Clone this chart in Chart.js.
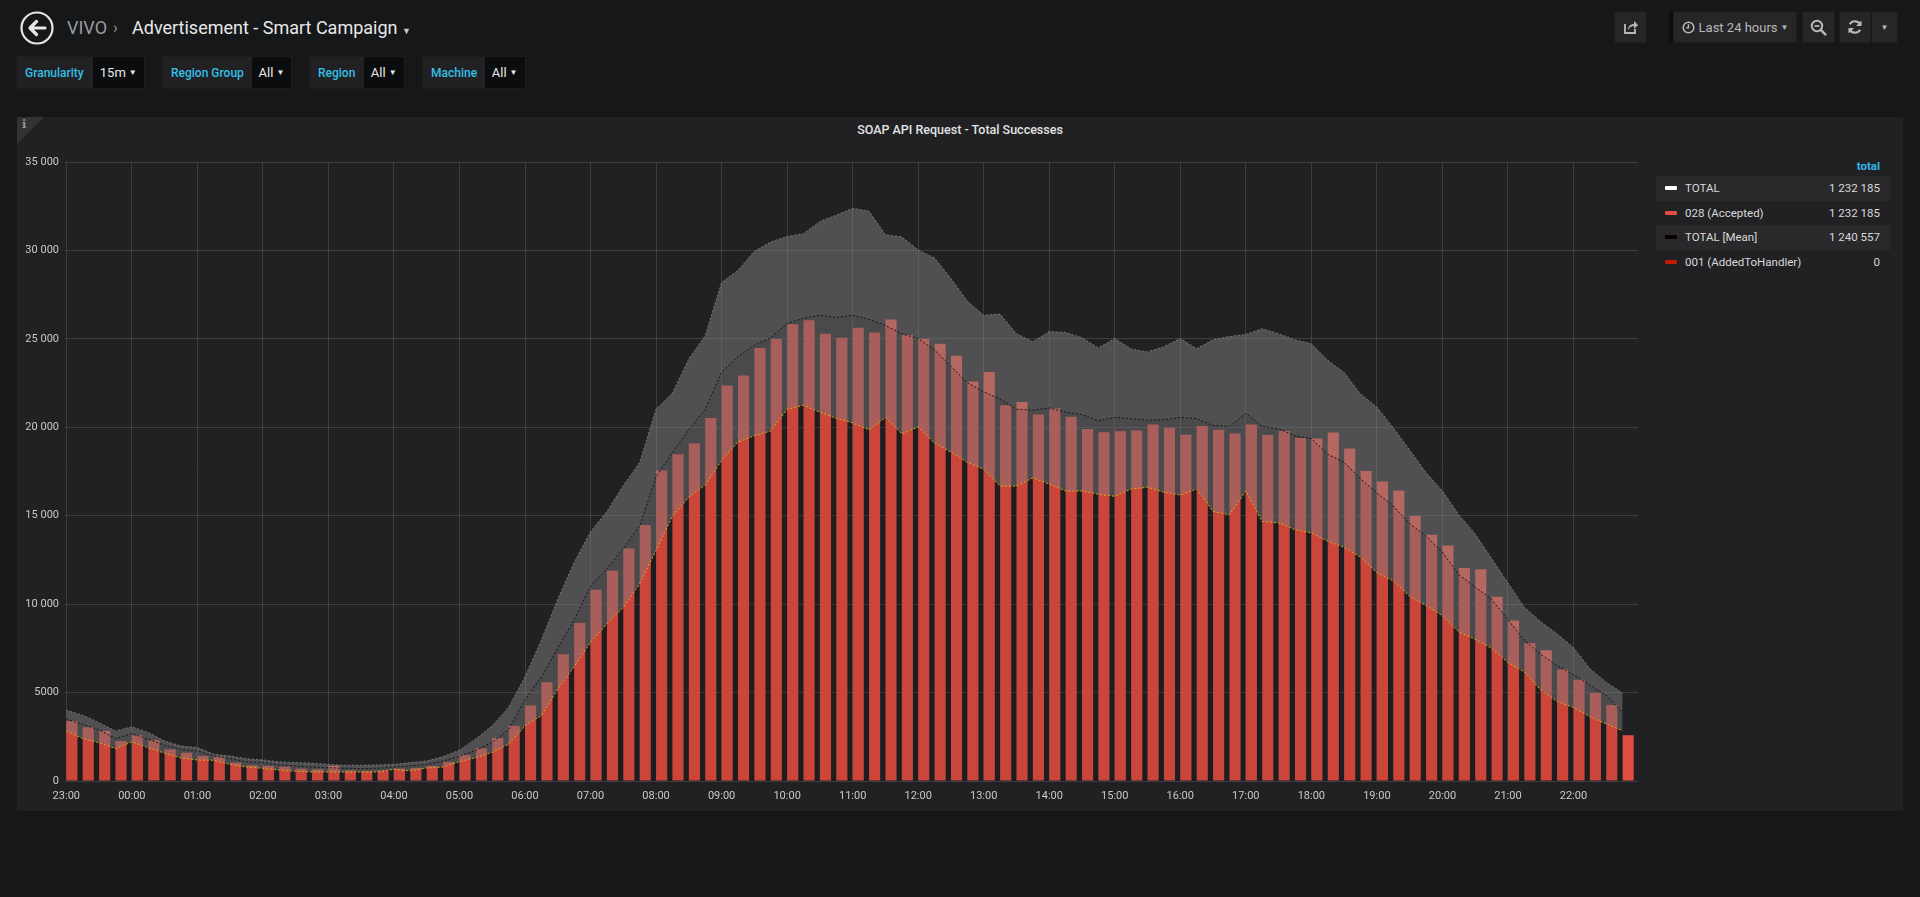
<!DOCTYPE html>
<html>
<head>
<meta charset="utf-8">
<title>SOAP API Request - Total Successes</title>
<script src="https://cdn.jsdelivr.net/npm/chart.js@4.4.1/dist/chart.umd.min.js"></script>
<style>
  body { margin: 0; width: 1920px; height: 897px; overflow: hidden; position: relative;
         background: #161719; font-family: Roboto, "Helvetica Neue", Arial, sans-serif; color: #d8d9da; }
  .abs { position: absolute; }
  .crumb { top: 15px; font-size: 18px; line-height: 26px; white-space: nowrap; }
  .btn { background: #262628; border: 1px solid #1c1c1e; border-radius: 2px; box-sizing: border-box;
         display: flex; align-items: center; justify-content: center; color: #b7b8ba; font-size: 13px; }
  .var { top: 56px; height: 33px; display: flex; border: 1px solid #1c1c1e; box-sizing: border-box; }
  .var .lbl { background: #212124; color: #33bfe5; font-size: 12px; font-weight: 500;
              display: flex; align-items: center; padding-left: 8px; box-sizing: border-box; }
  .var .val { background: #0b0c0e; color: #e8e8e8; font-size: 13px; display: flex; align-items: center;
              padding-left: 7px; box-sizing: border-box; }
  .caret { font-size: 8px; margin-left: 3px; }
  #panel { left: 17px; top: 117px; width: 1886px; height: 694px; background: #212124; }
  #info { left: 0; top: 0; width: 0; height: 0; border-top: 27px solid #333336; border-right: 27px solid transparent; }
  #infoI { left: 5px; top: 1px; font-size: 11px; color: #9a9a9c; font-family: "DejaVu Serif", serif; font-weight: bold; }
  #ptitle { left: 0; width: 1886px; top: 5px; text-align: center; font-size: 12.5px; font-weight: 500; color: #e3e3e3; }
  #legend { left: 1639px; top: 39px; width: 234px; font-size: 11.5px; }
  #legend .head { text-align: right; color: #33b5e5; font-weight: bold; height: 20px; line-height: 20px; padding-right: 10px; }
  #legend .row { height: 24.5px; display: flex; align-items: center; padding: 0 10px 0 9px; }
  #legend .row.odd { background: #29292b; }
  #legend .sw { width: 12px; height: 4px; border-radius: 1px; margin-right: 8px; }
  #legend .nm { flex: 1; color: #d8d9da; }
  #legend .tv { color: #d8d9da; }
  #chartBox { left: 17px; top: 140px; width: 1630px; height: 671px; }
</style>
</head>
<body>

<!-- top bar -->
<svg class="abs" style="left:19px;top:10px" width="36" height="36" viewBox="0 0 36 36">
  <circle cx="18" cy="18" r="15.5" fill="none" stroke="#e6e6e6" stroke-width="2.2"/>
  <path d="M26 18 H12 M17.5 11.5 L11 18 L17.5 24.5" fill="none" stroke="#e6e6e6" stroke-width="3.2" stroke-linecap="round" stroke-linejoin="round"/>
</svg>
<div class="abs crumb" style="left:67px;color:#9a9b9d">VIVO</div>
<div class="abs crumb" style="left:113px;color:#9a9b9d;font-size:16px">&#x203A;</div>
<div class="abs crumb" style="left:132px;color:#e8e8e8">Advertisement - Smart Campaign <span style="font-size:9px;color:#c8c8c8">&#9660;</span></div>

<div class="abs btn" style="left:1614px;top:11px;width:33px;height:32px">
  <svg width="16" height="16" viewBox="0 0 16 16"><path d="M2 5 V14 H12 V10" fill="none" stroke="#b7b8ba" stroke-width="1.8"/><path d="M5 11 C5 7 8 5 11 5 V2 L15 6 L11 10 V7 C8.5 7 6.5 8.5 5 11 Z" fill="#b7b8ba"/></svg>
</div>
<div class="abs" style="left:1669px;top:11px;width:4px;height:32px;background:#0d0e10"></div>
<div class="abs btn" style="left:1673px;top:11px;width:124px;height:32px">
  <svg width="13" height="13" viewBox="0 0 13 13" style="margin-right:4px"><circle cx="6.5" cy="6.5" r="5.3" fill="none" stroke="#b7b8ba" stroke-width="1.5"/><path d="M6.5 3.3 V6.8 H4.3" fill="none" stroke="#b7b8ba" stroke-width="1.4"/></svg>
  Last 24 hours <span class="caret">&#9660;</span>
</div>
<div class="abs btn" style="left:1802px;top:11px;width:33px;height:32px">
  <svg width="17" height="17" viewBox="0 0 17 17"><circle cx="7" cy="7" r="5.2" fill="none" stroke="#b7b8ba" stroke-width="2"/><path d="M4.5 7 H9.5" stroke="#b7b8ba" stroke-width="1.8"/><path d="M10.8 10.8 L15.3 15.3" stroke="#b7b8ba" stroke-width="2.6" stroke-linecap="round"/></svg>
</div>
<div class="abs btn" style="left:1839px;top:11px;width:32px;height:32px">
  <svg width="16" height="16" viewBox="0 0 16 16"><path d="M13.5 6 A6 6 0 0 0 2.8 5.2" fill="none" stroke="#b7b8ba" stroke-width="2.2"/><path d="M14.5 1.5 V7 H9 Z" fill="#b7b8ba"/><path d="M2.5 10 A6 6 0 0 0 13.2 10.8" fill="none" stroke="#b7b8ba" stroke-width="2.2"/><path d="M1.5 14.5 V9 H7 Z" fill="#b7b8ba"/></svg>
</div>
<div class="abs btn" style="left:1871px;top:11px;width:27px;height:32px"><span class="caret" style="margin:0">&#9660;</span></div>

<!-- template variables -->
<div class="abs var" style="left:16px;width:129px"><div class="lbl" style="width:77px">Granularity</div><div class="val" style="width:52px">15m<span class="caret">&#9660;</span></div></div>
<div class="abs var" style="left:162px;width:130px"><div class="lbl" style="width:90px">Region Group</div><div class="val" style="width:40px">All<span class="caret">&#9660;</span></div></div>
<div class="abs var" style="left:309px;width:96px"><div class="lbl" style="width:55px">Region</div><div class="val" style="width:41px">All<span class="caret">&#9660;</span></div></div>
<div class="abs var" style="left:422px;width:104px"><div class="lbl" style="width:63px">Machine</div><div class="val" style="width:41px">All<span class="caret">&#9660;</span></div></div>

<!-- panel -->
<div id="panel" class="abs">
  <div id="info" class="abs"></div>
  <div id="infoI" class="abs">i</div>
  <div id="ptitle" class="abs">SOAP API Request - Total Successes</div>
  <div id="legend" class="abs"></div>
</div>
<div id="chartBox" class="abs"><canvas id="chart" width="1630" height="671"></canvas></div>

<script>
// hours on the x axis, starting at 23:00 of the previous day
const hourLabels = ['23:00','00:00','01:00','02:00','03:00','04:00','05:00','06:00','07:00','08:00','09:00','10:00',
                    '11:00','12:00','13:00','14:00','15:00','16:00','17:00','18:00','19:00','20:00','21:00','22:00'];
const yTicks = [0, 5000, 10000, 15000, 20000, 25000, 30000, 35000];

// 15 minute buckets, 23:00 -> 22:45
const accepted = [
  3400, 3040, 2830, 2260, 2580, 2300, 1790, 1600, 1420, 1380, 1040, 890,
  850, 810, 700, 660, 870, 600, 570, 600, 700, 740, 850, 1080,
  1480, 1850, 2420, 3120, 4270, 5590, 7160, 8940, 10810, 11890, 13140, 14480,
  17550, 18480, 19100, 20530, 22360, 22930, 24480, 24990, 25820, 26050, 25290, 25060,
  25630, 25360, 26100, 25220, 24990, 24720, 24050, 22590, 23120, 21250, 21430, 20720,
  21060, 20600, 19910, 19720, 19770, 19820, 20160, 19980, 19580, 20070, 19860, 19650,
  20160, 19560, 19790, 19400, 19360, 19700, 18800, 17530, 16930, 16420, 14990, 13930,
  13310, 12040, 11970, 10420, 9080, 7790, 7390, 6310, 5730, 4970, 4300, 2590
];
const meanLine = [
  3490, 3210, 2890, 2400, 2680, 2360, 2020, 1790, 1700, 1420, 1260, 1090,
  1040, 910, 850, 790, 750, 720, 700, 720, 790, 850, 940, 1130,
  1400, 1730, 2190, 2890, 4620, 5890, 7510, 9120, 11020, 12010, 13160, 14430,
  17210, 18590, 19860, 21020, 23100, 24020, 24640, 25060, 25870, 26170, 26330, 26210,
  26330, 26100, 25760, 25290, 25020, 24370, 23450, 22520, 22010, 21600, 21020, 20970,
  21090, 20860, 20720, 20370, 20560, 20490, 20400, 20420, 20560, 20490, 20100, 20050,
  20790, 20050, 19910, 19520, 19360, 18480, 18020, 17090, 16290, 15550, 14550, 13860,
  12940, 11670, 10970, 10280, 9120, 7970, 7160, 6540, 6010, 5430, 4850, 3860
];
const upperBand = [
  4000, 3720, 3300, 2830, 3060, 2740, 2260, 1980, 1890, 1510, 1420, 1260,
  1190, 1080, 1040, 1000, 940, 890, 890, 910, 940, 1040, 1130, 1380,
  1740, 2380, 3120, 4160, 5890, 7970, 10280, 12360, 14090, 15240, 16700, 18010,
  21020, 21940, 23860, 25170, 28180, 28870, 29950, 30480, 30790, 30950, 31640, 31990,
  32380, 32220, 30880, 30770, 30030, 29570, 28410, 27140, 26330, 26400, 25290, 24830,
  25410, 25360, 25060, 24490, 25020, 24420, 24260, 24560, 25020, 24440, 24950, 25130,
  25250, 25570, 25290, 24950, 24720, 23790, 23100, 21880, 21140, 19980, 18710, 17440,
  16400, 15060, 13970, 12590, 11200, 9820, 9010, 8320, 7550, 6350, 5590, 4970
];
const lowerBand = [
  2830, 2400, 2170, 1830, 2210, 1890, 1570, 1300, 1190, 1170, 940, 790,
  720, 620, 550, 510, 510, 510, 510, 510, 660, 570, 740, 790,
  1100, 1320, 1620, 2080, 3120, 3700, 5200, 6470, 7850, 8890, 9820, 11150,
  13050, 14970, 16050, 16740, 18130, 19170, 19520, 19790, 21020, 21250, 20850, 20510,
  20250, 19860, 20550, 19630, 20020, 19100, 18600, 18020, 17630, 16680, 16680, 17140,
  16790, 16400, 16400, 16210, 16100, 16510, 16610, 16330, 16170, 16510, 15240, 15060,
  16400, 14670, 14600, 14210, 14020, 13560, 13210, 12660, 11780, 11320, 10440, 9930,
  9350, 8430, 8010, 7510, 6700, 6170, 5150, 4500, 4160, 3630, 3230, 2840
];

// legend table
const legendNames  = ['TOTAL', '028 (Accepted)', 'TOTAL [Mean]', '001 (AddedToHandler)'];
const legendTotals = ['1 232 185', '1 232 185', '1 240 557', '0'];
const legendColors = ['#ffffff', '#e24d42', '#0a0000', '#bf1b00'];

var legendEl = document.getElementById('legend');
var html = '<div class="head">total</div>';
for (var i = 0; i < legendNames.length; i++) {
  html += '<div class="row' + (i % 2 == 0 ? ' odd' : '') + '">' +
          '<div class="sw" style="background:' + legendColors[i] + '"></div>' +
          '<div class="nm">' + legendNames[i] + '</div>' +
          '<div class="tv">' + legendTotals[i] + '</div></div>';
}
legendEl.innerHTML = html;

// x is hours since 23:00, one bucket = 0.25h; bars start at the bucket time
const bucket = 0.25;
const barShift = 0.085;
function points(arr, shift) {
  var out = [];
  for (var i = 0; i < arr.length; i++) {
    out.push({x: i * bucket + shift, y: arr[i]});
  }
  return out;
}

function fmtY(v) {
  if (v < 10000) return String(v);
  return String(v).replace(/\B(?=(\d{3})+(?!\d))/g, ' ');
}

var ctx = document.getElementById('chart');
var chart = new Chart(ctx, {
  type: 'bar',
  data: {
    datasets: [
      {
        type: 'bar',
        label: '028 (Accepted)',
        data: points(accepted, barShift),
        backgroundColor: '#e24d42',
        borderWidth: 0,
        barPercentage: 0.68,
        categoryPercentage: 1,
        order: 10
      },
      {
        type: 'line',
        label: 'upper',
        data: points(upperBand, 0),
        borderColor: 'rgba(125,125,127,0.95)',
        borderWidth: 1,
        borderDash: [2, 2],
        pointRadius: 0,
        tension: 0,
        fill: 2,
        backgroundColor: 'rgba(132,131,134,0.48)',
        order: 3
      },
      {
        type: 'line',
        label: 'lower',
        data: points(lowerBand, 0),
        borderColor: '#e5b511',
        borderWidth: 1,
        borderDash: [2, 2],
        pointRadius: 0,
        tension: 0,
        fill: 'origin',
        backgroundColor: 'rgba(0,0,0,0.1)',
        order: 2
      },
      {
        type: 'line',
        label: 'TOTAL [Mean]',
        data: points(meanLine, 0),
        borderColor: '#151212',
        borderWidth: 1,
        borderDash: [2, 2],
        pointRadius: 0,
        tension: 0,
        fill: 2,
        backgroundColor: 'rgba(0,0,0,0.07)',
        order: 1
      }
    ]
  },
  options: {
    responsive: false,
    animation: false,
    devicePixelRatio: 1,
    layout: { padding: { top: 22, right: 9, left: 0, bottom: 0 } },
    plugins: {
      legend: { display: false },
      tooltip: { enabled: false },
      filler: { propagate: false }
    },
    scales: {
      x: {
        type: 'linear',
        min: -0.02,
        max: 23.985,
        offset: false,
        afterFit: function (scale) { scale.height = 30; },
        grid: { color: 'rgba(255,255,255,0.13)', drawTicks: false, offset: false },
        border: { display: false },
        ticks: {
          stepSize: 1,
          includeBounds: false,
          autoSkip: false,
          maxRotation: 0,
          padding: 9,
          color: '#c8c9ca',
          font: { family: 'Roboto', size: 11 },
          callback: function (v) {
            return Number.isInteger(v) ? hourLabels[v] : '';
          }
        }
      },
      y: {
        min: yTicks[0],
        max: yTicks[yTicks.length - 1],
        afterFit: function (scale) { scale.width = 48; },
        afterBuildTicks: function (scale) {
          scale.ticks = yTicks.map(function (v) { return {value: v}; });
        },
        grid: { color: 'rgba(255,255,255,0.13)', drawTicks: false },
        border: { display: false },
        ticks: {
          padding: 6,
          color: '#c8c9ca',
          font: { family: 'Roboto', size: 11 },
          callback: function (v) { return fmtY(v); }
        }
      }
    }
  }
});
</script>
</body>
</html>
